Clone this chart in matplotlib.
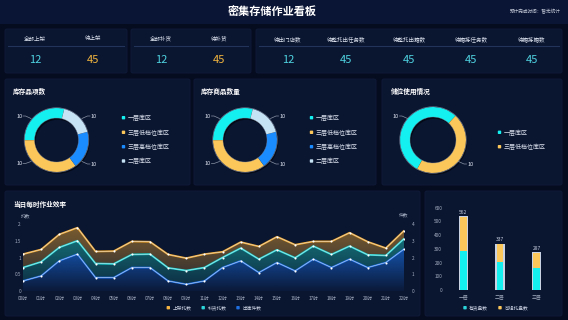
import numpy as np
import matplotlib
matplotlib.use('Agg')
import matplotlib.pyplot as plt
import matplotlib.colors as mcolors
from matplotlib.patches import FancyBboxPatch, Rectangle, Circle, Wedge

plt.rcParams['font.family'] = ['Noto Sans CJK SC', 'DejaVu Sans']

# ---- data ----
kpi_groups = [
    (['全部上架', '待上架'], ['12', '45']),
    (['全部补货', '待补货'], ['12', '45']),
    (['待出门店数', '待整托出任务数', '待整托出箱数', '待箱拣任务数', '待箱拣箱数'],
     ['12', '45', '45', '45', '45']),
]

zones4 = ['一层库区', '三层低档位库区', '三层高档位库区', '二层库区']
item_share = [29, 35, 19, 17]
goods_share = [29, 35, 19, 17]
pie_labels4 = ['10', '10', '10', '10']
zones2 = ['一层库区', '三层低档位库区']
slot_share = [54, 46]
pie_labels2 = ['10', '10']

hours = ['00时', '01时', '02时', '03时', '04时', '05时', '06时', '07时', '08时', '09时',
         '11时', '12时', '13时', '14时', '15时', '16时', '17时', '18时', '19时', '20时',
         '21时', '22时']
out_pieces = [0.6, 0.9, 1.8, 2.2, 0.8, 0.8, 1.4, 1.4, 0.6, 0.4, 0.6, 1.4, 1.8, 1.1,
              1.7, 1.2, 1.9, 1.4, 1.9, 1.4, 1.7, 2.5]            # 出库件数
restock = [0.4, 0.42, 0.4, 0.4, 0.42, 0.41, 0.39, 0.4, 0.39, 0.41, 0.4, 0.3, 0.38, 0.4,
           0.38, 0.39, 0.39, 0.39, 0.39, 0.38, 0.21, 0.31]        # 补货托数
putaway = [0.4, 0.37, 0.39, 0.39, 0.36, 0.38, 0.39, 0.37, 0.4, 0.37, 0.4, 0.17, 0.18,
           0.38, 0.39, 0.39, 0.14, 0.39, 0.4, 0.39, 0.22, 0.24]    # 上架托数

floors = ['一层', '二层', '三层']
has_goods = [287, 207, 163]      # 有货盘数
can_group = [243, 126, 105]      # 可组托盘数
bar_tops = ['562', '337', '287']

# ---- style ----
W, H = 568, 320
BG = '#060c20'
PANEL = '#0a1530'
CYAN = '#14f0f0'
YEL = '#fbc65a'
BLUE = '#1a8cff'
LBLUE = '#c6e2f5'
TXT = '#dce3ef'
GREY = '#a3adc0'

fig = plt.figure(figsize=(W / 100, H / 100), dpi=100, facecolor=BG)
bg = fig.add_axes([0, 0, 1, 1])
bg.set_xlim(0, W)
bg.set_ylim(H, 0)
bg.axis('off')
bg.set_zorder(-1)


def px_axes(x0, y0, x1, y1):
    a = fig.add_axes([x0 / W, 1 - y1 / H, (x1 - x0) / W, (y1 - y0) / H])
    a.set_facecolor('none')
    return a


def panel(x0, y0, x1, y1):
    bg.add_patch(FancyBboxPatch((x0, y0), x1 - x0, y1 - y0,
                                boxstyle='round,pad=0,rounding_size=2',
                                fc=PANEL, ec='#0f1c3a', lw=0.6))


def marker(x, y, c):
    bg.add_patch(FancyBboxPatch((x - 1.7, y - 1.7), 3.4, 3.4,
                                boxstyle='round,pad=0,rounding_size=0.8', fc=c, ec='none'))


# header
bg.add_patch(Rectangle((0, 0), W, 24, fc='#0a1434', ec='none'))
bg.text(272, 12, '密集存储作业看板', color='white', fontsize=8, fontweight='bold',
        ha='center', va='center')
bg.text(561, 12, '预计完成时间：暂无统计', color='#c3cad8', fontsize=3.3,
        ha='right', va='center')

# KPI panels
kpi_boxes = [(5, 29, 127, 73), (131, 29, 251, 73), (256, 29, 562, 73)]
kpi_x = [[35, 93], [161, 219], [288, 346, 409, 471, 532]]
for gi, ((names, vals), box) in enumerate(zip(kpi_groups, kpi_boxes)):
    panel(*box)
    bg.plot([box[0] + 3, box[2] - 3], [46, 46], color='#22345a', lw=0.8)
    for k, (nm, v) in enumerate(zip(names, vals)):
        xx = kpi_x[gi][k]
        bg.text(xx, 39, nm, color=TXT, fontsize=4, ha='center', va='center')
        col = '#f2b63e' if (gi < 2 and k == 1) else '#4fd3e0'
        bg.text(xx, 60, v, color=col, fontsize=8, ha='center', va='center')

# donut panels
panel(5, 79, 190, 185)
panel(194, 79, 376, 185)
panel(382, 79, 562, 185)
bg.text(13, 91, '库存品项数', color='white', fontsize=4.8, fontweight='bold', va='center')
bg.text(201, 91, '库存商品数量', color='white', fontsize=4.8, fontweight='bold', va='center')
bg.text(391, 91, '储位使用情况', color='white', fontsize=4.8, fontweight='bold', va='center')


def donut(cx, cy, shares, colors, labels, lab_pos, start, r=32, w=10):
    a = px_axes(cx - 55, cy - 40, cx + 55, cy + 40)
    a.add_patch(Wedge((1.2, -1.8), r, 0, 360, width=w, fc='#02050c', ec='none',
                      alpha=0.7, zorder=0))
    a.pie(shares, colors=colors, radius=r, startangle=start, counterclock=True,
          wedgeprops=dict(width=w, edgecolor='none'))
    a.add_patch(Circle((0, 0), r + 0.3, fc='none', ec='#7f8aa0', lw=0.5, alpha=0.8))
    a.add_patch(Circle((0, 0), r - w, fc='none', ec='#7f8aa0', lw=0.4, alpha=0.6))
    for lab, (lx, ly) in zip(labels, lab_pos):
        s = 1 if lx > 0 else -1
        t = 1 if ly > 0 else -1
        a.plot([s * 25.5, s * 31, s * 33.5], [t * 21.5, ly, ly], color='#8a94a6', lw=0.5)
        a.text(s * 34.3, ly, lab, color=TXT, fontsize=4, ha='left' if s > 0 else 'right',
               va='center')
    a.set_xlim(-55, 55)
    a.set_ylim(-40, 40)
    a.axis('off')


c4 = [CYAN, YEL, BLUE, LBLUE]
pos4 = [(-37, 24), (-37, -23.5), (37, -24), (36.5, 24)]
donut(56.5, 140, item_share, c4, pie_labels4, pos4, 76)
donut(245, 140, goods_share, c4, pie_labels4, pos4, 76)
donut(433, 140, slot_share, [CYAN, YEL], pie_labels2, [(-37.5, 24), (37, -24)], 47, r=33)

leg_y = [117.7, 132.3, 146.7, 161]
for mx in (123.5, 311.5):
    for nm, c, yy in zip(zones4, c4, leg_y):
        marker(mx, yy, c)
        bg.text(mx + 4, yy, nm, color=TXT, fontsize=4.3, va='center')
for nm, c, yy in zip(zones2, [CYAN, YEL], [132.3, 146.7]):
    marker(499.5, yy, c)
    bg.text(503.5, yy, nm, color=TXT, fontsize=4.3, va='center')

# bottom panels
panel(5, 191, 420, 316)
panel(425, 191, 562, 316)
bg.text(13, 204, '当日每时作业效率', color='white', fontsize=4.8, fontweight='bold', va='center')
bg.text(26, 216, '托数', color=GREY, fontsize=3.4, ha='center', va='center')
bg.text(404, 215, '件数', color=GREY, fontsize=3.4, ha='center', va='center')


def grad_fill(a, x, lo, hi, color, a_lo, a_hi, z):
    poly = a.fill_between(x, lo, hi, facecolor='none', edgecolor='none')
    path = poly.get_paths()[0]
    arr = np.zeros((200, 1, 4))
    arr[:, 0, :3] = mcolors.to_rgb(color)
    arr[:, 0, 3] = np.linspace(a_lo, a_hi, 200)
    im = a.imshow(arr, extent=[x[0], x[-1], 0, 2], origin='lower', aspect='auto',
                  zorder=z, interpolation='bilinear')
    im.set_clip_path(path, transform=a.transData)


ax = px_axes(23, 224, 404, 291)
x = np.arange(len(hours))
base = np.array(out_pieces) / 2
mid = base + np.array(restock)
top = mid + np.array(putaway)
grad_fill(ax, x, mid, top, '#f0a830', 0.12, 0.5, 1)
grad_fill(ax, x, base, mid, '#22d6c8', 0.1, 0.55, 1)
grad_fill(ax, x, np.zeros_like(base), base, '#1a78f5', 0.05, 0.95, 1)
for yv, c in [(top, '#f5a623'), (mid, '#19d9d6'), (base, '#1a6fe8')]:
    ax.plot(x, yv, color=c, lw=1.3, zorder=3, solid_capstyle='round')
    ax.plot(x, yv, color='#d8dde8', lw=0.45, zorder=4, alpha=0.85)
    ax.plot(x, yv, 'o', color='white', ms=1.5, mew=0, zorder=5)
ax.set_xlim(0, len(hours) - 1)
ax.set_ylim(0, 2)
ax.set_xticks(x, hours)
ax.set_yticks([0, 0.5, 1, 1.5, 2], ['0', '0.5', '1', '1.5', '2'])
ax.tick_params(axis='x', length=0, labelsize=3.4, colors=GREY, pad=3.6)
ax.tick_params(axis='y', length=0, labelsize=3.4, colors=GREY, pad=1.5)
for sp in ax.spines.values():
    sp.set_visible(False)
ax2 = ax.twinx()
ax2.set_ylim(0, 4)
ax2.set_yticks([0, 1, 2, 3, 4])
ax2.tick_params(axis='y', length=0, labelsize=3.4, colors=GREY, pad=5.5)
for sp in ax2.spines.values():
    sp.set_visible(False)

for mx, nm, c in [(168.3, '上架托数', '#f5b342'), (203.2, '补货托数', '#2ad4d8'),
                  (238, '出库件数', '#1f6fe0')]:
    marker(mx, 307.7, c)
    bg.text(mx + 4.3, 307.7, nm, color='#c8d0e0', fontsize=3.4, va='center')

# bar chart
bx = px_axes(445, 207.7, 555, 290)
xb = np.arange(len(floors))
tot = np.array(has_goods) + np.array(can_group)
bx.bar(xb, tot + 6, width=0.25, color='#c9d2e2', zorder=1)
bx.bar(xb, has_goods, width=0.19, color=CYAN, zorder=2)
bx.bar(xb, can_group, bottom=has_goods, width=0.19, color=YEL, zorder=2)
for i, lab in enumerate(bar_tops):
    bx.text(xb[i], tot[i] + 14, lab, color='#c8d0e0', fontsize=3.5, ha='center', va='bottom')
bx.set_xlim(-0.5, 2.5)
bx.set_ylim(0, 600)
bx.set_xticks(xb, floors)
bx.set_yticks(range(0, 601, 100))
bx.tick_params(axis='x', length=0, labelsize=3.5, colors=GREY, pad=3.6)
bx.tick_params(axis='y', length=0, labelsize=3.4, colors=GREY, pad=2)
for sp in bx.spines.values():
    sp.set_visible(False)

for mx, nm, c in [(465, '有货盘数', '#2ad4d8'), (500, '可组托盘数', YEL)]:
    marker(mx, 307.7, c)
    bg.text(mx + 4.3, 307.7, nm, color='#c8d0e0', fontsize=3.4, va='center')

fig.savefig('out.png', dpi=100, facecolor=BG)
